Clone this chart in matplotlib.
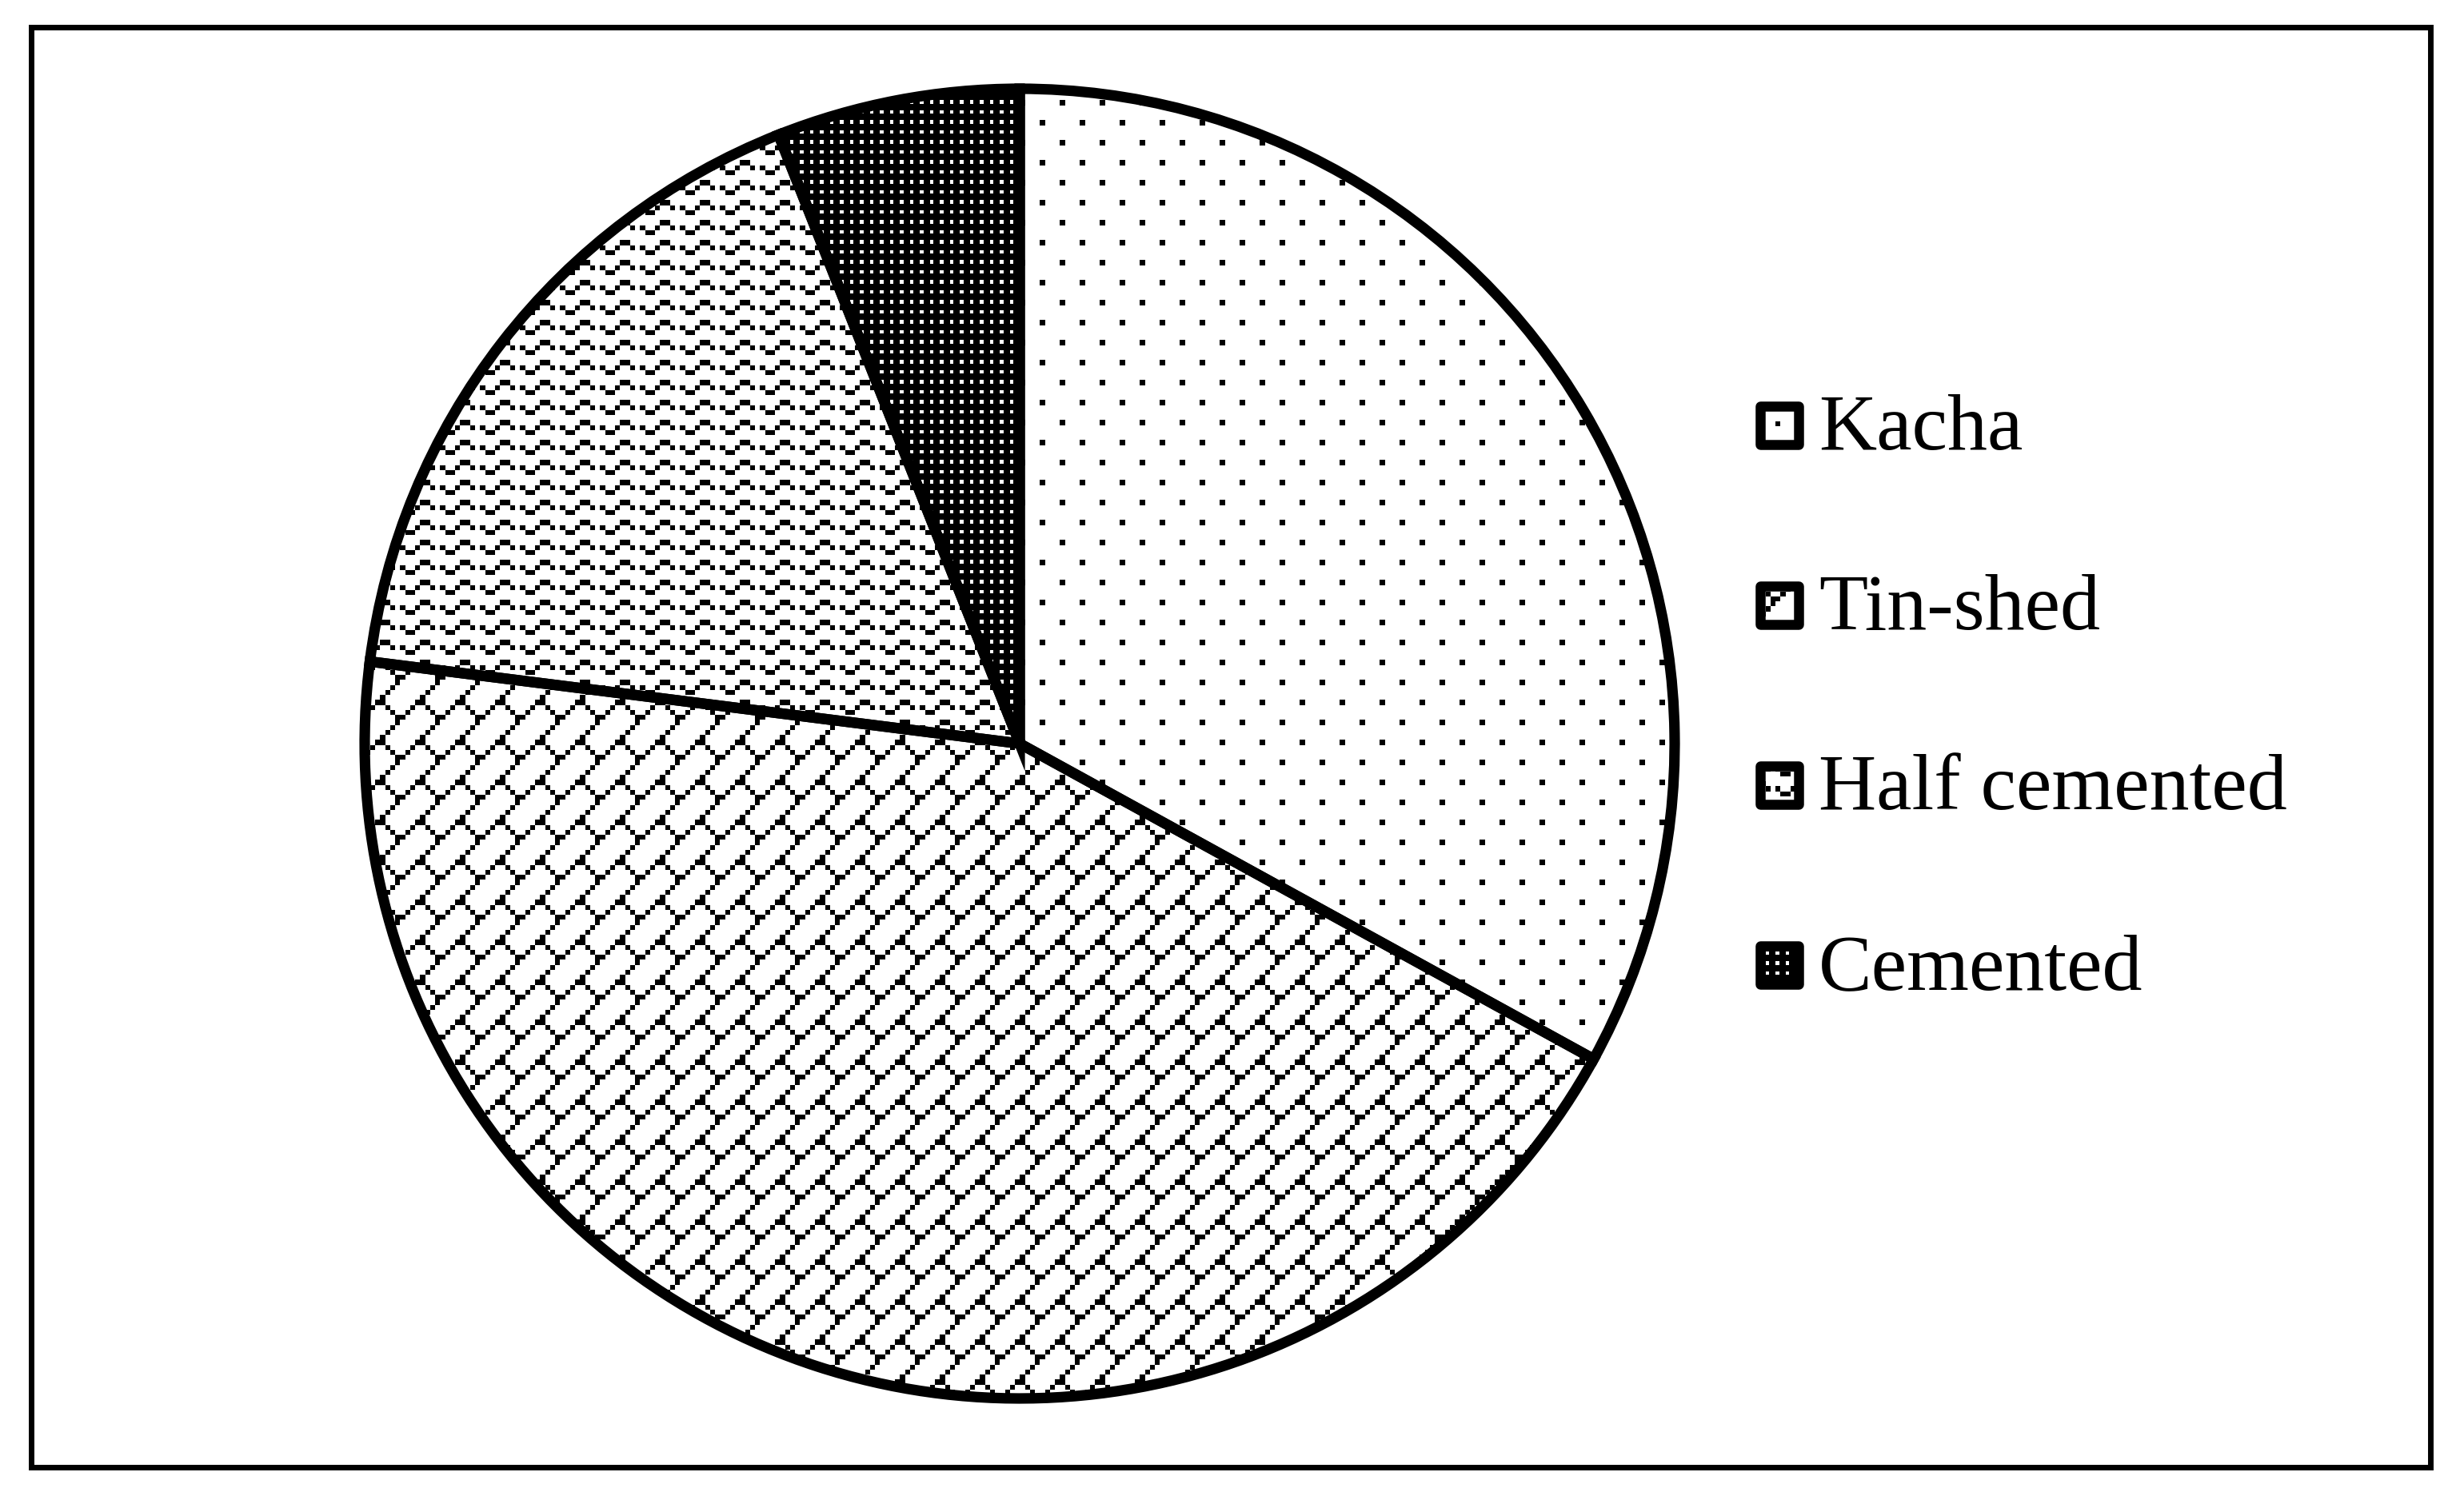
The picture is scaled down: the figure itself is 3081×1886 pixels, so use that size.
import numpy as np
import matplotlib
matplotlib.use("Agg")
import matplotlib.pyplot as plt
from matplotlib.patches import Rectangle


W, H = 3081, 1886
DPI = 100

categories = ["Kacha", "Tin-shed", "Half cemented", "Cemented"]
shares = [33, 44, 17, 6]

# pie geometry in pixels (y measured upward)
CENTER = (1275, H - 930)
RADIUS = 819
CELL = 6.25


def make_pattern(cells):
    p = np.zeros((8, 8))
    for r, c in cells:
        p[r, c] = 1
    return p


# 8x8 fill patterns, 1 = black cell
PATTERNS = {
    "Kacha": make_pattern([(0, 0), (4, 4)]),
    "Tin-shed": make_pattern([(0, 7), (1, 6), (2, 5), (3, 4), (4, 3), (4, 4),
                              (5, 2), (5, 5), (6, 1), (6, 6), (7, 0), (7, 7)]),
    "Half cemented": make_pattern([(0, 4), (0, 5), (1, 0), (1, 3), (1, 6), (2, 1), (2, 2),
                                   (4, 4), (4, 5), (5, 0), (5, 3), (5, 6), (6, 1), (6, 2)]),
}


def tile(name, w, h, offset=0):
    if name == "Cemented":
        # black with small white squares
        period, hole = 2 * CELL, 4.5
        ys = (np.arange(h) + offset * CELL) % period < hole
        xs = (np.arange(w) + offset * CELL) % period < hole
        return 1.0 - (ys[:, None] & xs[None, :])
    p = PATTERNS[name]
    rows = ((np.arange(h) / CELL).astype(int) + offset) % 8
    cols = ((np.arange(w) / CELL).astype(int) + offset) % 8
    return p[rows[:, None], cols[None, :]]


fig = plt.figure(figsize=(W / DPI, H / DPI), dpi=DPI)
fig.patch.set_facecolor("white")
ax = fig.add_axes([0, 0, 1, 1])

wedges, _ = ax.pie(
    shares,
    startangle=90,
    counterclock=False,
    center=CENTER,
    radius=RADIUS,
    wedgeprops=dict(facecolor="none", edgecolor="black", linewidth=9.5, zorder=3),
)

for name, wedge in zip(categories, wedges):
    im = ax.imshow(tile(name, W, H), extent=(0, W, 0, H), origin="upper", cmap="gray_r",
                   vmin=0, vmax=1, interpolation="nearest", zorder=1)
    im.set_clip_path(wedge)

# outer frame
ax.add_patch(Rectangle((39, H - 1835), 3000, 1801, fill=False, edgecolor="black",
                       linewidth=5, zorder=4))

# legend drawn by hand
box_x, box_size = 2201, 48
baselines = [562, 787, 1012, 1237]
for name, base in zip(categories, baselines):
    y0 = H - base + 6
    rect = Rectangle((box_x, y0), box_size, box_size, facecolor="none", edgecolor="black",
                     linewidth=9, joinstyle="round", zorder=4)
    ax.add_patch(rect)
    im = ax.imshow(tile(name, box_size, box_size, offset=-3),
                   extent=(box_x, box_x + box_size, y0, y0 + box_size),
                   origin="upper", cmap="gray_r", vmin=0, vmax=1,
                   interpolation="nearest", zorder=2)
    im.set_clip_path(rect)
    ax.text(2274, H - base, name, fontsize=72, family="Liberation Serif",
            va="baseline", ha="left")

ax.set_xlim(0, W)
ax.set_ylim(0, H)
ax.set_axis_off()

fig.savefig("out.png", dpi=DPI, facecolor="white")
